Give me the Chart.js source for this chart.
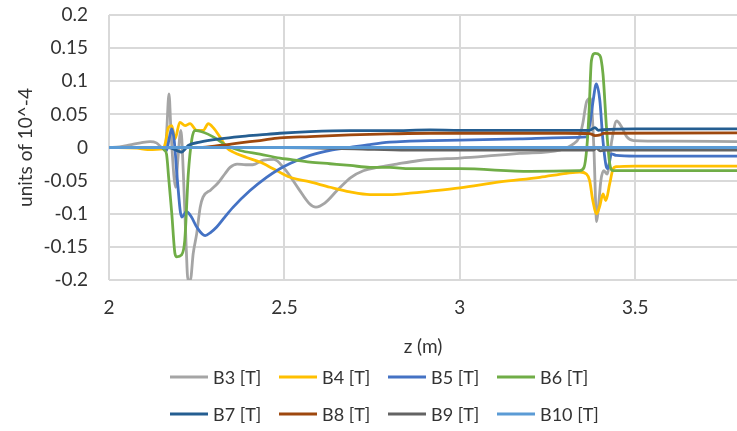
<!DOCTYPE html>
<html>
<head>
<meta charset="utf-8">
<script src="https://cdn.jsdelivr.net/npm/chart.js@4.4.1/dist/chart.umd.min.js"></script>
<style>
  html, body { margin: 0; padding: 0; background: #ffffff; }
  #wrap { width: 737px; height: 431px; }
</style>
</head>
<body>
<div id="wrap"><canvas id="chart" width="737" height="431"></canvas></div>
<script>
// Field components along z (m), in units of 10^-4
const seriesNames = ['B3 [T]', 'B4 [T]', 'B5 [T]', 'B6 [T]', 'B7 [T]', 'B8 [T]', 'B9 [T]', 'B10 [T]'];
const xTickValues = [2, 2.5, 3, 3.5];

const b3Z = [2.0, 2.03, 2.06, 2.09, 2.117, 2.135, 2.15, 2.16, 2.164, 2.171, 2.177, 2.19, 2.196, 2.205, 2.212, 2.22, 2.225, 2.232, 2.24, 2.25, 2.26, 2.268, 2.29, 2.31, 2.33, 2.345, 2.365, 2.39, 2.41, 2.44, 2.47, 2.5, 2.54, 2.57, 2.59, 2.615, 2.65, 2.69, 2.725, 2.765, 2.82, 2.88, 2.92, 3.0, 3.1, 3.17, 3.285, 3.32, 3.34, 3.35, 3.362, 3.373, 3.382, 3.39, 3.395, 3.402, 3.41, 3.42, 3.433, 3.447, 3.46, 3.476, 3.495, 3.6, 3.79];
const b3V = [0, 0.001, 0.004, 0.007, 0.009, 0.007, 0.0, -0.003, 0.02, 0.081, 0.02, -0.06, -0.02, 0.026, -0.04, -0.15, -0.2, -0.2, -0.16, -0.13, -0.09, -0.075, -0.064, -0.054, -0.04, -0.03, -0.025, -0.026, -0.026, -0.019, -0.018, -0.032, -0.062, -0.084, -0.09, -0.084, -0.065, -0.045, -0.035, -0.03, -0.025, -0.02, -0.018, -0.016, -0.012, -0.009, -0.004, 0.004, 0.015, 0.035, 0.07, 0.074, 0.0, -0.112, -0.09, -0.05, -0.035, -0.04, 0.01, 0.04, 0.032, 0.016, 0.0105, 0.0095, 0.009];

const b4Z = [2.0, 2.08, 2.11, 2.154, 2.162, 2.169, 2.179, 2.188, 2.202, 2.217, 2.231, 2.25, 2.269, 2.283, 2.297, 2.316, 2.335, 2.354, 2.392, 2.43, 2.468, 2.516, 2.573, 2.63, 2.687, 2.744, 2.8, 2.858, 2.915, 3.0, 3.114, 3.228, 3.304, 3.342, 3.361, 3.37, 3.379, 3.39, 3.399, 3.408, 3.416, 3.427, 3.437, 3.446, 3.5, 3.79];
const b4V = [0, -0.001, -0.003, -0.002, 0.01, 0.03, 0.033, 0.013, 0.038, 0.033, 0.036, 0.026, 0.026, 0.036, 0.03, 0.016, 0.0, -0.007, -0.015, -0.022, -0.032, -0.045, -0.052, -0.06, -0.067, -0.071, -0.071, -0.069, -0.066, -0.061, -0.052, -0.045, -0.039, -0.037, -0.04, -0.05, -0.08, -0.1, -0.088, -0.07, -0.08, -0.055, -0.032, -0.029, -0.028, -0.028];

const b5Z = [2.0, 2.15, 2.16, 2.164, 2.172, 2.179, 2.186, 2.195, 2.207, 2.221, 2.235, 2.25, 2.274, 2.29, 2.307, 2.33, 2.354, 2.402, 2.449, 2.487, 2.516, 2.573, 2.63, 2.687, 2.744, 2.8, 2.858, 2.915, 3.0, 3.17, 3.3, 3.361, 3.372, 3.38, 3.389, 3.399, 3.408, 3.418, 3.422, 3.432, 3.446, 3.5, 3.79];
const b5V = [0, 0, -0.004, -0.005, 0.015, 0.028, 0.01, -0.05, -0.105, -0.097, -0.105, -0.12, -0.133, -0.128, -0.12, -0.105, -0.09, -0.065, -0.045, -0.032, -0.024, -0.012, -0.0045, 0.0, 0.0045, 0.008, 0.0095, 0.0105, 0.011, 0.013, 0.015, 0.016, 0.04, 0.071, 0.096, 0.071, 0.01, -0.03, -0.032, -0.0095, -0.012, -0.013, -0.013];

const b6Z = [2.0, 2.15, 2.158, 2.164, 2.17, 2.179, 2.188, 2.193, 2.207, 2.216, 2.226, 2.236, 2.245, 2.269, 2.297, 2.335, 2.373, 2.43, 2.487, 2.516, 2.573, 2.63, 2.687, 2.744, 2.8, 2.858, 3.0, 3.2, 3.342, 3.354, 3.362, 3.368, 3.375, 3.385, 3.399, 3.408, 3.418, 3.427, 3.437, 3.79];
const b6V = [0, 0, -0.004, -0.01, -0.045, -0.1, -0.16, -0.165, -0.162, -0.14, -0.04, 0.012, 0.026, 0.023, 0.016, 0.003, -0.0045, -0.01, -0.016, -0.018, -0.022, -0.0245, -0.027, -0.03, -0.03, -0.032, -0.032, -0.036, -0.035, -0.03, 0.0, 0.05, 0.131, 0.142, 0.139, 0.111, 0.03, -0.024, -0.035, -0.035];

const b7Z = [2.0, 2.17, 2.2, 2.207, 2.216, 2.226, 2.259, 2.316, 2.373, 2.43, 2.487, 2.573, 2.687, 2.8, 2.915, 3.0, 3.3, 3.37, 3.385, 3.395, 3.41, 3.5, 3.79];
const b7V = [0, 0, -0.006, -0.007, -0.003, 0.003, 0.008, 0.013, 0.0165, 0.019, 0.0215, 0.024, 0.0255, 0.0255, 0.0265, 0.026, 0.026, 0.026, 0.03, 0.026, 0.027, 0.028, 0.028];

const b8Z = [2.0, 2.22, 2.259, 2.316, 2.373, 2.43, 2.487, 2.573, 2.687, 2.8, 2.915, 3.3, 3.37, 3.385, 3.4, 3.41, 3.79];
const b8V = [0, 0, 0.0, 0.003, 0.007, 0.0105, 0.0145, 0.0165, 0.019, 0.0205, 0.0215, 0.0215, 0.021, 0.018, 0.019, 0.0215, 0.022];

const b9Z = [2.0, 2.5, 2.7, 2.85, 3.3, 3.38, 3.39, 3.4, 3.42, 3.79];
const b9V = [0, 0, -0.002, -0.004, -0.004, -0.004, -0.001, -0.005, -0.004, -0.004];

const b10Z = [2.0, 3.79];
const b10V = [0, 0];

const seriesColors = ['#A5A5A5', '#FFC000', '#4472C4', '#70AD47', '#255E91', '#9E480E', '#636363', '#5B9BD5'];

const zLists = [b3Z, b4Z, b5Z, b6Z, b7Z, b8Z, b9Z, b10Z];
const vLists = [b3V, b4V, b5V, b6V, b7V, b8V, b9V, b10V];

const datasets = seriesNames.map((name, i) => ({
  label: name,
  data: zLists[i].map((z, k) => ({ x: z, y: vLists[i][k] })),
  borderColor: seriesColors[i],
  backgroundColor: seriesColors[i],
  borderWidth: 2.8,
  pointRadius: 0,
  showLine: true,
  fill: false,
  cubicInterpolationMode: 'monotone',
  order: seriesNames.length - i   // later series drawn on top
}));

const FONT = 'Lato';
const TEXT = '#333333';
const GRID = '#d9d9d9';

// Two-row legend below the plot, four entries per row
const rowLegend = {
  id: 'rowLegend',
  afterDraw(chart) {
    const ctx = chart.ctx;
    const colX = [170, 279, 388, 497];
    const rowY = [377, 414];
    ctx.save();
    ctx.font = '18px ' + FONT;
    ctx.textBaseline = 'middle';
    ctx.textAlign = 'left';
    chart.data.datasets.forEach((ds, i) => {
      const x = colX[i % 4];
      const y = rowY[Math.floor(i / 4)];
      ctx.strokeStyle = ds.borderColor;
      ctx.lineWidth = 3;
      ctx.beginPath();
      ctx.moveTo(x, y);
      ctx.lineTo(x + 38, y);
      ctx.stroke();
      ctx.fillStyle = TEXT;
      ctx.fillText(ds.label, x + 43, y + 1);
    });
    ctx.restore();
  }
};

new Chart(document.getElementById('chart'), {
  type: 'scatter',
  data: { datasets },
  plugins: [rowLegend],
  options: {
    responsive: false,
    animation: false,
    devicePixelRatio: 1,
    layout: { padding: { top: 15, right: 0, bottom: 71, left: 0 } },
    plugins: {
      legend: { display: false },
      tooltip: { enabled: false }
    },
    scales: {
      x: {
        type: 'linear',
        min: 2,
        max: 3.79,
        afterFit(s) { s.height = 80; s.paddingLeft = 0; s.paddingRight = 0; },
        afterBuildTicks(s) { s.ticks = xTickValues.map(v => ({ value: v })); },
        ticks: {
          padding: 16,
          color: TEXT,
          font: { family: FONT, size: 19 },
          callback: v => String(v)
        },
        grid: { color: GRID, lineWidth: 2, drawTicks: false },
        border: { display: false },
        title: {
          display: true,
          text: 'z (m)',
          color: TEXT,
          font: { family: FONT, size: 19 },
          padding: { top: 0, bottom: 2 }
        }
      },
      y: {
        min: -0.2,
        max: 0.2,
        afterFit(s) { s.width = 109; s.paddingTop = 0; s.paddingBottom = 0; },
        ticks: {
          stepSize: 0.05,
          padding: 21,
          color: TEXT,
          font: { family: FONT, size: 19 },
          callback: v => String(parseFloat(Number(v).toFixed(2)))
        },
        grid: { color: GRID, lineWidth: 2, drawTicks: false },
        border: { display: false },
        title: {
          display: true,
          text: 'units of 10^-4',
          color: TEXT,
          font: { family: FONT, size: 19 },
          padding: { top: 14, bottom: 0 }
        }
      }
    }
  }
});
</script>
</body>
</html>
